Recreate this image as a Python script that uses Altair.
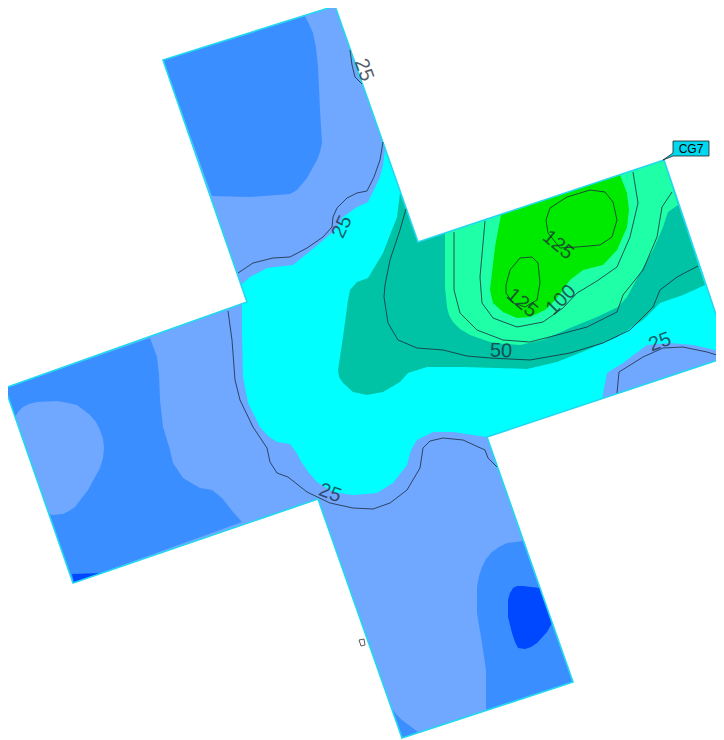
import altair as alt

# colours of the contour bands
LIGHT = "#70A7FF"; MID = "#3A8EFF"; DEEP = "#0048FF"; CYAN = "#00FFFF"
TEAL = "#00C3A5"; MINT = "#1EFFA8"; GREEN = "#00EA00"

cross = [(163,60),(335,6),(418,242),(664,160),(730,356),(487,437),(573,682),(402,738),(318,499),(73,583),(5,388),(247,302)]
mid_top = [(163,60),(305,16),(309,24),(313,33),(316,48),(318,67),(320,110),(322,143),(320,152),(317,160),(307,178),(297,190),(290,194),(250,197),(212,196)]
mid_left = [(5,388),(150,338),(157,357),(159,375),(160,400),(163,427),(170,450),(173,463),(183,478),(200,488),(212,490),(222,498),(233,512),(242,522),(73,583)]
light_left = [(15,417),(18,412),(23,407),(29,404),(37,402),(57,401),(68,403),(77,405),(90,415),(96,422),(100,430),(103,439),(104,448),(103,458),(100,468),(88,490),(75,507),(69,511),(63,514),(53,515),(49,514)]
deep_left = [(72,574),(102,573),(74,583)]
mid_bottom = [(523,541),(507,543),(499,547),(492,552),(486,559),(482,567),(479,576),(477,587),(477,613),(482,643),(486,670),(486,710),(573,682)]
deep_bottom = [(540,588),(523,586),(517,586),(513,588),(510,593),(508,600),(508,617),(512,633),(515,642),(518,648),(525,649),(531,647),(537,643),(547,632),(552,623)]
mid_corner = [(392,708),(396,714),(402,720),(418,732),(402,738)]
cyan_main = [(385,150),(383,165),(380,177),(368,202),(357,207),(343,217),(335,230),(320,243),(293,265),(267,268),(250,277),(241,285),(247,302),(242,304),(242,330),(243,377),(248,403),(260,427),(268,436),(277,442),(290,444),(296,452),(302,463),(309,473),(317,482),(333,492),(353,495),(377,493),(393,483),(407,465),(411,450),(417,440),(433,432),(453,432),(473,435),(487,437),(730,356),(664,160),(418,242)]
light_right = [(602,399),(607,373),(623,363),(647,345),(670,343),(693,345),(723,352),(730,356)]
teal_main = [(400,193),(397,217),(383,253),(368,278),(357,282),(350,290),(348,300),(343,337),(338,370),(339,377),(343,383),(353,392),(367,395),(383,392),(400,382),(408,373),(427,367),(463,367),(497,368),(527,369),(557,362),(587,350),(617,337),(643,320),(660,303),(683,295),(705,285),(664,160),(418,242)]
mint_main = [(678,205),(668,212),(663,227),(653,250),(640,273),(627,297),(618,307),(597,317),(570,328),(543,340),(520,345),(493,343),(470,335),(460,329),(453,322),(449,315),(447,307),(445,287),(445,233),(664,160)]
green_main = [(620,175),(627,193),(629,210),(627,227),(617,250),(603,265),(583,270),(570,280),(557,298),(545,310),(530,317),(517,318),(503,312),(493,303),(490,290),(495,247),(501,215)]
callout = [(663,160),(673,153),(673,141),(709,141),(709,156),(673,156)]
tiny_box = [(359,640),(364,639),(365,645),(361,646)]

c25_a = [(350,50),(352,65),(355,77),(362,84)]
c25_b = [(383,142),(380,160),(374,177),(367,191),(357,193),(347,198),(337,208),(333,217),(332,227),(323,237),(307,248),(290,257),(273,258),(253,263),(238,273)]
c25_c = [(228,311),(232,340),(235,380),(240,400),(253,427),(267,448),(270,462),(277,473),(288,477),(307,492),(330,503),(353,508),(373,509),(390,503),(407,490),(420,468),(423,448),(430,441),(443,438),(463,440),(485,450),(488,458),(497,467)]
c25_d = [(617,393),(619,372),(643,357),(663,348),(683,347),(707,352),(723,357)]
c50 = [(406,209),(400,230),(390,260),(385,285),(384,297),(388,323),(398,340),(417,348),(443,350),(467,356),(490,358),(530,360),(570,353),(603,343),(630,330),(653,307),(660,290),(677,277),(698,266)]
c75 = [(454,232),(454,290),(460,313),(477,330),(503,340),(530,342),(557,335),(587,327),(617,312),(623,295),(643,270),(657,237),(662,207),(672,192)]
c100 = [(485,221),(480,277),(482,303),(493,318),(517,327),(543,322),(563,308),(577,293),(597,281),(617,267),(630,237),(638,203),(633,172)]
c125_a = [(546,220),(550,208),(567,197),(590,190),(605,192),(613,202),(617,220),(612,237),(600,245),(577,247),(560,248),(548,233),(546,220)]
c125_b = [(506,285),(510,270),(520,258),(532,257),(538,263),(540,283),(537,300),(525,307),(513,303),(506,293),(506,285)]

label_text = ["25","25","25","25","50","100","125","125"]
label_x = [364,342,330,660,501,561,558,522]
label_y = [70,227,493,342,351,300,245,303]
label_angle = [70,295,20,340,2,315,40,40]

regions = [
    (cross, LIGHT), (mid_top, MID), (mid_left, MID), (light_left, LIGHT), (deep_left, DEEP),
    (mid_bottom, MID), (deep_bottom, DEEP), (mid_corner, MID), (cyan_main, CYAN),
    (light_right, LIGHT), (teal_main, TEAL), (mint_main, MINT), (green_main, GREEN),
]
lines = [c25_a, c25_b, c25_c, c25_d, c50, c75, c100, c125_a, c125_b]


def poly(points, fill):
    ring = [list(p) for p in points] + [list(points[0])]
    return {"type": "Feature", "properties": {"fill": fill},
            "geometry": {"type": "Polygon", "coordinates": [ring]}}


def line(points):
    return {"type": "Feature", "properties": {},
            "geometry": {"type": "LineString", "coordinates": [list(p) for p in points]}}


def features(items):
    return alt.InlineData(values={"type": "FeatureCollection", "features": items},
                          format=alt.DataFormat(property="features", type="json"))


bands = alt.Chart(features([poly(p, c) for p, c in regions])).mark_geoshape(stroke=None, strokeWidth=0).encode(
    fill=alt.Fill("properties.fill:N", scale=None)
)
outline = alt.Chart(features([poly(cross, LIGHT)])).mark_geoshape(filled=False, stroke="#22D8F0", strokeWidth=1.6)
contours = alt.Chart(features([line(p) for p in lines])).mark_geoshape(filled=False, stroke="#1c2a3a", strokeWidth=0.8)
small = alt.Chart(features([poly(tiny_box, "#ffffff")])).mark_geoshape(stroke="#333333", strokeWidth=0.8).encode(
    fill=alt.Fill("properties.fill:N", scale=None)
)
tag = alt.Chart(features([poly(callout, "#00D8F0")])).mark_geoshape(stroke="#222222", strokeWidth=0.8).encode(
    fill=alt.Fill("properties.fill:N", scale=None)
)

labels = alt.Chart(alt.Data(values=[
    {"t": t, "x": x, "y": y, "a": a} for t, x, y, a in zip(label_text, label_x, label_y, label_angle)
])).mark_text(font="Liberation Sans", fontSize=20, fill="#1c2a3a", opacity=0.75,
              align="center", baseline="middle").encode(
    longitude="x:Q", latitude="y:Q", text="t:N", angle=alt.Angle("a:Q", scale=None)
)
tag_text = alt.Chart(alt.Data(values=[{"t": "CG7", "x": 691, "y": 149}])).mark_text(
    font="Liberation Sans", fontSize=12, fill="#000000", align="center", baseline="middle"
).encode(longitude="x:Q", latitude="y:Q", text="t:N")

chart = alt.layer(bands, outline, contours, small, tag, labels, tag_text).project(
    type="identity", scale=1, translate=[-8, -8]
).properties(
    width=708, height=732, padding=0,
    autosize=alt.AutoSizeParams(type="none"),
).configure_view(stroke=None)

chart.save("out.html", embed_options={"renderer": "svg", "actions": False})
